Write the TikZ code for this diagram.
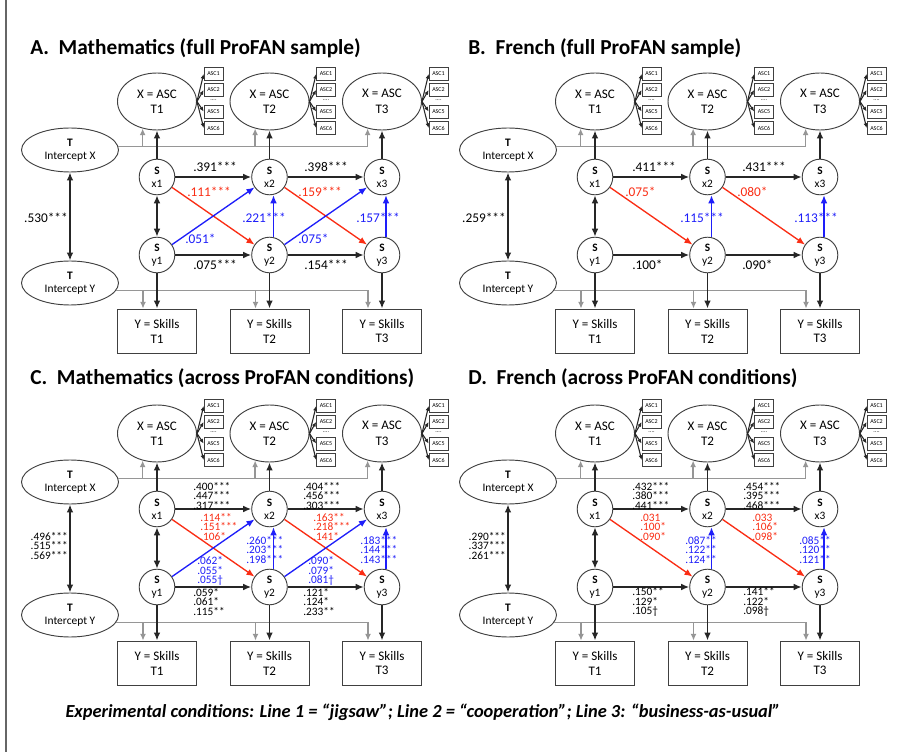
\documentclass[tikz,border=0pt]{standalone}
\usepackage{fontspec}
\setmainfont{Carlito}
\usetikzlibrary{arrows.meta,calc,shapes.geometric}
\definecolor{myred}{RGB}{250,45,20}
\definecolor{myblue}{RGB}{30,30,250}
\definecolor{mygray}{RGB}{150,150,150}
\tikzset{
  ell/.style={ellipse, draw=black!75, line width=0.7pt, minimum width=59.25pt, minimum height=42.75pt, inner sep=0pt, align=center, font=\fontsize{9.8}{11.6}\selectfont},
  iell/.style={ellipse, draw=black!75, line width=0.7pt, minimum width=72.75pt, minimum height=33pt, inner sep=0pt, align=center, font=\fontsize{8.6}{9.75}\selectfont},
  scirc/.style={circle, draw=black!75, line width=0.7pt, minimum size=26.7pt, inner sep=0pt, align=center, font=\fontsize{8.5}{9.75}\selectfont},
  skbox/.style={rectangle, draw=black!75, line width=0.7pt, minimum width=59.25pt, minimum height=33pt, inner sep=0pt, align=center, font=\fontsize{9.8}{11.2}\selectfont},
  ind/.style={rectangle, draw=black!75, line width=0.5pt, minimum width=14.25pt, minimum height=9.75pt, inner sep=0pt, font=\fontsize{4.5}{5}\selectfont},
  dotsn/.style={inner sep=0pt, font=\fontsize{4.5}{5}\selectfont},
  barr/.style={-{Latex[length=6pt,width=5pt]}, line width=1.2pt, black!85},
  bdbl/.style={{Latex[length=6pt,width=5pt]}-{Latex[length=6pt,width=5pt]}, line width=1.2pt, black!85},
  indarr/.style={-{Latex[length=3.5pt,width=3pt]}, line width=0.8pt, black!85},
  rarr/.style={-{Latex[length=6pt,width=5pt]}, line width=1pt, myred},
  blarr/.style={-{Latex[length=6pt,width=5pt]}, line width=1pt, myblue},
  gline/.style={line width=1pt, mygray},
  garr/.style={-{Latex[length=5pt,width=4.5pt]}, line width=1pt, mygray},
  lab/.style={anchor=west, inner sep=0pt, font=\fontsize{10}{12}\selectfont},
  labs/.style={anchor=west, inner sep=0pt, align=left, font=\fontsize{8.5}{7.1}\selectfont},
  ttl/.style={anchor=west, inner sep=0pt, font=\fontsize{16}{19}\selectfont\bfseries},
}
\newcommand\drawpanel[3]{%
\begin{scope}[shift={(#2,#3)}, name prefix=#1-]
  \node[ell] (a1) at (157,101.5) {X = ASC\\T1};
  \node[ell] (a2) at (269.5,101.5) {X = ASC\\T2};
  \node[ell] (a3) at (382,101.5) {X = ASC\\T3};
  \foreach \i in {1,2,3} {
    \node[ind] (a\i-b1) at ($(a\i)+(56.5,-27.5)$) {ASC1};
    \node[ind] (a\i-b2) at ($(a\i)+(56.5,-11.5)$) {ASC2};
    \node[dotsn] (a\i-d) at ($(a\i)+(56.5,-1.5)$) {....};
    \node[ind] (a\i-b5) at ($(a\i)+(56.5,10)$) {ASC5};
    \node[ind] (a\i-b6) at ($(a\i)+(56.5,26.5)$) {ASC6};
    \foreach \k in {1,2,5,6} \draw[indarr] (a\i.east) -- (a\i-b\k.west);
  }
  \node[iell] (IX) at (70,150) {\textbf{T}\\Intercept X};
  \node[iell] (IY) at (70,283) {\textbf{T}\\Intercept Y};
  \node[scirc] (x1) at (157,177) {\textbf{S}\\x1};
  \node[scirc] (x2) at (269.5,177) {\textbf{S}\\x2};
  \node[scirc] (x3) at (382,177) {\textbf{S}\\x3};
  \node[scirc] (y1) at (157,255) {\textbf{S}\\y1};
  \node[scirc] (y2) at (269.5,255) {\textbf{S}\\y2};
  \node[scirc] (y3) at (382,255) {\textbf{S}\\y3};
  \node[skbox] (sk1) at (157,331) {Y = Skills\\T1};
  \node[skbox] (sk2) at (269.5,331) {Y = Skills\\T2};
  \node[skbox] (sk3) at (382,331) {Y = Skills\\T3};
  % gray intercept paths
  \draw[gline] (IX.4) -- (IX.4 -| a3.242);
  \foreach \i in {1,2,3} \draw[garr] (IX.4 -| a\i.242) -- (a\i.242);
  \foreach \i in {1,2,3} \coordinate (g\i) at ($(sk\i.north)+(-14,0)$);
  \draw[gline] (IY.351) -- (IY.351 -| g3);
  \foreach \i in {1,2,3} \draw[garr] (IY.351 -| g\i) -- (g\i);
  % black paths
  \foreach \i in {1,2,3} {
    \draw[barr] (x\i) -- (a\i);
    \draw[barr] (y\i) -- (sk\i);
  }
  \draw[barr] (x1) -- (x2);
  \draw[barr] (x2) -- (x3);
  \draw[barr] (y1) -- (y2);
  \draw[barr] (y2) -- (y3);
  \draw[bdbl] (x1) -- (y1);
  \draw[bdbl] (IX) -- (IY);
  % cross-lagged
  \draw[rarr] (x1) -- (y2);
  \draw[rarr] (x2) -- (y3);
  \draw[blarr] ([xshift=3pt]y2.north) -- ([xshift=3pt]x2.south);
  \draw[blarr] ([xshift=3pt]y3.north) -- ([xshift=3pt]x3.south);
\end{scope}}
\begin{document}
\begin{tikzpicture}[x=0.75pt,y=-0.75pt]
  \useasboundingbox (0,0) rectangle (900,752);
  \fill[white] (0,0) rectangle (900,752);
  \draw[line width=0.8pt, black!60] (6,0) -- (6,752);

  \drawpanel{A}{0}{0}
  \drawpanel{B}{438}{0}
  \drawpanel{C}{0}{332}
  \drawpanel{D}{438}{332}

  % ---------- Panel A ----------
  \begin{scope}[name prefix=A-]
    \node[ttl] (ttl) at (30,48) {A.\ \ Mathematics (full ProFAN sample)};
    \draw[blarr] (y1) -- (x2);
    \draw[blarr] (y2) -- (x3);
    \node[lab] (l1) at (193,167) {.391***};
    \node[lab] (l2) at (304,167) {.398***};
    \node[lab, myred] (l3) at (187,192) {.111***};
    \node[lab, myred] (l4) at (298,192) {.159***};
    \node[lab, myblue] (l5) at (242,218) {.221***};
    \node[lab, myblue] (l6) at (356,218) {.157***};
    \node[lab, myblue] (l7) at (185,239) {.051*};
    \node[lab, myblue] (l8) at (298,239) {.075*};
    \node[lab] (l9) at (193,265) {.075***};
    \node[lab] (l10) at (304,265) {.154***};
    \node[lab, anchor=east] (l11) at (68,218) {.530***};
  \end{scope}

  % ---------- Panel B ----------
  \begin{scope}[shift={(438,0)}, name prefix=B-]
    \node[ttl] (ttl) at (30,48) {B.\ \ French (full ProFAN sample)};
    \node[lab] (l1) at (194,167) {.411***};
    \node[lab] (l2) at (304,167) {.431***};
    \node[lab, myred] (l3) at (187,192) {.075*};
    \node[lab, myred] (l4) at (299,192) {.080*};
    \node[lab, myblue] (l5) at (242,218) {.115***};
    \node[lab, myblue] (l6) at (356,218) {.113***};
    \node[lab] (l9) at (194,265) {.100*};
    \node[lab] (l10) at (304,265) {.090*};
    \node[lab, anchor=east] (l11) at (68,218) {.259***};
  \end{scope}

  % ---------- Panel C ----------
  \begin{scope}[shift={(0,332)}, name prefix=C-]
    \node[ttl] (ttl) at (30,46) {C.\ \ Mathematics (across ProFAN conditions)};
    \draw[blarr] (y1) -- (x2);
    \draw[blarr] (y2) -- (x3);
    \node[labs] (l1) at (193,164) {.400***\\.447***\\.317***};
    \node[labs] (l2) at (303,164) {.404***\\.456***\\.303***};
    \node[labs, myred] (l3) at (200,195) {.114**\\.151***\\.106*};
    \node[labs, myred] (l4) at (313,195) {.163**\\.218***\\.141*};
    \node[labs, myblue] (l5) at (246,218) {.260***\\.203***\\.198***};
    \node[labs, myblue] (l6) at (360,218) {.183***\\.144***\\.143***};
    \node[labs, myblue] (l7) at (197,239) {.062*\\.055*\\.055\textdagger};
    \node[labs, myblue] (l8) at (308,239) {.090*\\.079*\\.081\textdagger};
    \node[labs] (l9) at (193,270) {.059*\\.061*\\.115**};
    \node[labs] (l10) at (303,270) {.121*\\.124*\\.233**};
    \node[labs, anchor=east] (l11) at (68,214) {.496***\\.515***\\.569***};
  \end{scope}

  % ---------- Panel D ----------
  \begin{scope}[shift={(438,332)}, name prefix=D-]
    \node[ttl] (ttl) at (30,46) {D.\ \ French (across ProFAN conditions)};
    \node[labs] (l1) at (194,164) {.432***\\.380***\\.441***};
    \node[labs] (l2) at (305,164) {.454***\\.395***\\.468***};
    \node[labs, myred] (l3) at (202,195) {.031\\.100*\\.090*};
    \node[labs, myred] (l4) at (314,195) {.033\\.106*\\.098*};
    \node[labs, myblue] (l5) at (247,218) {.087**\\.122**\\.124**};
    \node[labs, myblue] (l6) at (361,218) {.085**\\.120**\\.121**};
    \node[labs] (l9) at (194,270) {.150**\\.129*\\.105\textdagger};
    \node[labs] (l10) at (305,270) {.141**\\.122*\\.098\textdagger};
    \node[labs, anchor=east] (l11) at (68,214) {.290***\\.337***\\.261***};
  \end{scope}

  \node[inner sep=0pt, font=\fontsize{13.8}{16}\selectfont\bfseries\itshape] (cap) at (423,712)
    {Experimental conditions: Line 1 = “jigsaw”; Line 2 = “cooperation”; Line 3: “business-as-usual”};
\end{tikzpicture}
\end{document}
